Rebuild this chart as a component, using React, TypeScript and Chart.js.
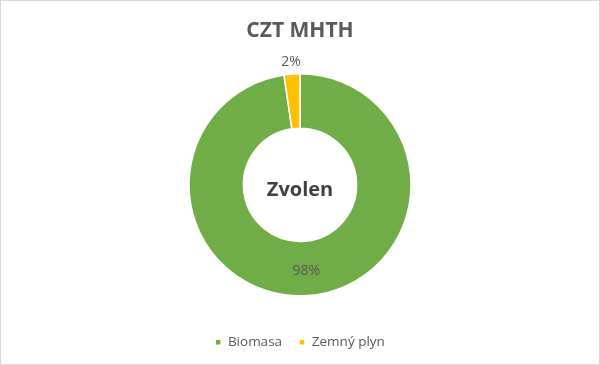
import React, { useEffect, useRef } from "react";
import { Chart, registerables } from "chart.js";

Chart.register(...registerables);

const titleText = "CZT MHTH";
const centerText = "Zvolen";
const categories = ["Biomasa", "Zemný plyn"];
const shares = [97.7, 2.3];
const colors = ["#70AD47", "#FFC000"];

const FONT = "'Open Sans', sans-serif";

const sliceLabels = {
  id: "sliceLabels",
  afterDatasetsDraw(chart: any) {
    const ctx = chart.ctx;
    const meta = chart.getDatasetMeta(0);
    const data = chart.data.datasets[0].data as number[];
    const total = data.reduce((a, b) => a + b, 0);
    ctx.save();
    ctx.font = `14px ${FONT}`;
    ctx.fillStyle = "#595959";
    ctx.textAlign = "center";
    ctx.textBaseline = "middle";
    meta.data.forEach((arc: any, i: number) => {
      const p = arc.getProps(["x", "y", "startAngle", "endAngle", "innerRadius", "outerRadius"], true);
      const pct = (data[i] / total) * 100;
      const mid = (p.startAngle + p.endAngle) / 2;
      const r = pct < 5 ? p.outerRadius + 12 : (p.innerRadius + p.outerRadius) / 2 + 3;
      const x = p.x + Math.cos(mid) * r;
      const y = p.y + Math.sin(mid) * r;
      ctx.fillText(`${Math.round(pct)}%`, x, y);
    });
    ctx.restore();
  },
};

const centerLabel = {
  id: "centerLabel",
  afterDatasetsDraw(chart: any) {
    const ctx = chart.ctx;
    const arc = chart.getDatasetMeta(0).data[0] as any;
    if (!arc) return;
    ctx.save();
    ctx.font = `bold 20px ${FONT}`;
    ctx.fillStyle = "#404040";
    ctx.textAlign = "center";
    ctx.textBaseline = "middle";
    ctx.fillText(centerText, arc.x, arc.y + 5);
    ctx.restore();
  },
};

const frame = {
  id: "frame",
  afterDraw(chart: any) {
    const ctx = chart.ctx;
    ctx.save();
    ctx.strokeStyle = "#D9D9D9";
    ctx.lineWidth = 1;
    ctx.strokeRect(0.5, 0.5, chart.width - 1, chart.height - 1);
    ctx.restore();
  },
};

export default function App() {
  const ref = useRef<HTMLCanvasElement>(null);
  useEffect(() => {
    if (!ref.current) return;
    const chart = new Chart(ref.current, {
      type: "doughnut",
      data: {
        labels: categories,
        datasets: [
          {
            data: shares,
            backgroundColor: colors,
            borderColor: "#FFFFFF",
            borderWidth: 1.5,
          },
        ],
      },
      options: {
        responsive: false,
        animation: false,
        radius: 111,
        cutout: "51%",
        layout: { padding: { top: 0, bottom: 6, left: 0, right: 0 } },
        plugins: {
          title: {
            display: true,
            text: titleText,
            color: "#595959",
            font: { family: FONT, size: 21, weight: "bold" },
            padding: { top: 18, bottom: 8 },
          },
          legend: {
            position: "bottom",
            labels: {
              color: "#595959",
              font: { family: FONT, size: 13.5 },
              boxWidth: 6,
              boxHeight: 6,
              padding: 17,
            },
          },
          tooltip: { enabled: false },
        },
      },
      plugins: [sliceLabels, centerLabel, frame],
    });
    return () => chart.destroy();
  }, []);
  return (
    <div style={{ position: "absolute", left: 0, top: 0, width: 600, height: 365, background: "#fff" }}>
      <canvas ref={ref} width={600} height={365} />
    </div>
  );
}
